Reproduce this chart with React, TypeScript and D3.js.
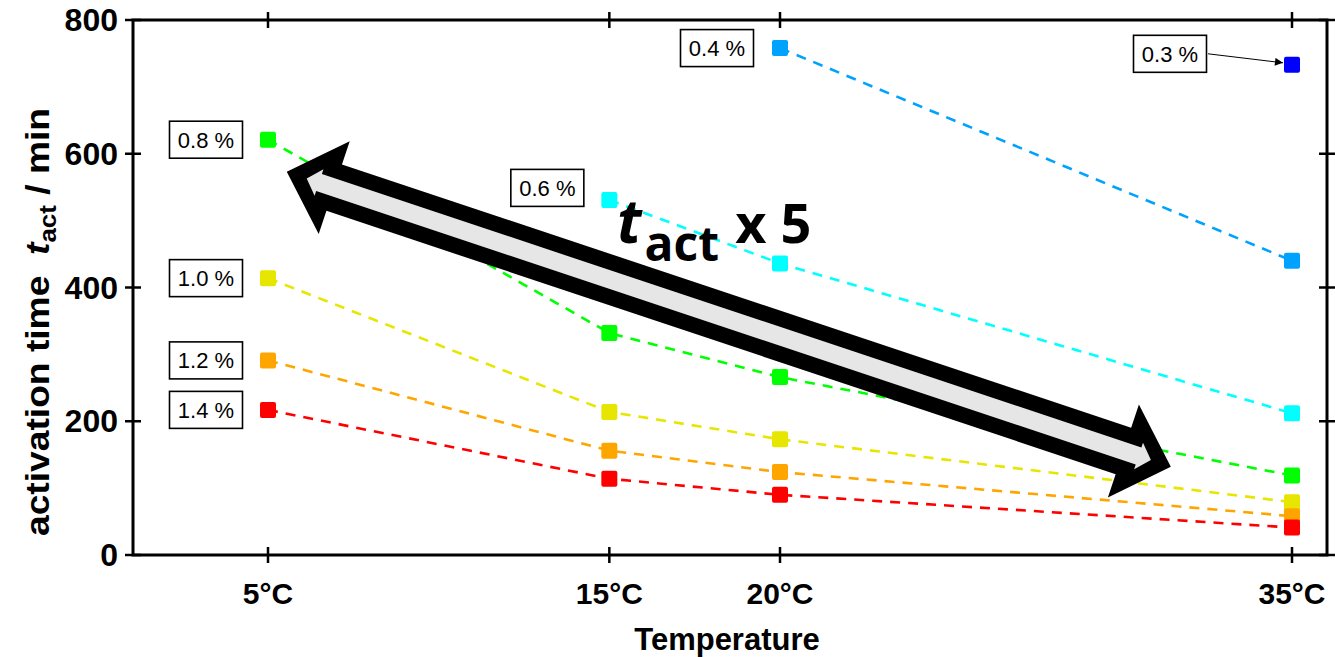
import React from "react";
import * as d3 from "d3";

// Temperatures (°C) at which the activation time was measured
const temperatures = [5, 15, 20, 35];
const xTickLabels = ["5°C", "15°C", "20°C", "35°C"];
const yTicks = [0, 200, 400, 600, 800];

// Activation time t_act (min) per concentration; null = not measured
const conc03 = [null, null, null, 733];
const conc04 = [null, null, 758, 440];
const conc06 = [null, 531, 436, 212];
const conc08 = [621, 332, 266, 119];
const conc10 = [414, 214, 173, 79];
const conc12 = [291, 156, 124, 58];
const conc14 = [217, 114, 90, 41];

const seriesLabels = ["0.3 %", "0.4 %", "0.6 %", "0.8 %", "1.0 %", "1.2 %", "1.4 %"];
const seriesValues = [conc03, conc04, conc06, conc08, conc10, conc12, conc14];
const seriesColors = ["#0000ff", "#00a2ff", "#00ffff", "#00ff00", "#e6e600", "#ffa500", "#ff0000"];

// Which point each concentration tag is attached to, and its offset (px)
const tagAnchorIndex = [3, 2, 1, 0, 0, 0, 0];
const tagOffsets: [number, number][] = [
  [-122, -11],
  [-63, 0],
  [-62, -12],
  [-62, 0],
  [-62, 0],
  [-62, 0],
  [-62, 0],
];

// Double-headed "x 5" arrow endpoints in data units [°C, min]
const spanArrowFrom: [number, number] = [5.55, 573];
const spanArrowTo: [number, number] = [31.45, 132];

const W = 1335;
const H = 657;
const plotLeft = 133;
const plotRight = 1327;
const plotTop = 20;
const plotBottom = 555;

const FONT = "'Liberation Sans', Arial, Helvetica, sans-serif";

export default function App() {
  const x = d3.scaleLinear().domain([5, 35]).range([268, 1292]);
  const y = d3.scaleLinear().domain([0, 800]).range([plotBottom, plotTop]);

  const line = d3
    .line<[number, number | null]>()
    .defined((d) => d[1] !== null)
    .x((d) => x(d[0]))
    .y((d) => y(d[1] as number));

  const tickLen = 8;
  const markerSize = 16;

  // Double arrow geometry in a local frame along the arrow axis
  const ax0 = x(spanArrowFrom[0]);
  const ay0 = y(spanArrowFrom[1]);
  const ax1 = x(spanArrowTo[0]);
  const ay1 = y(spanArrowTo[1]);
  const L = Math.hypot(ax1 - ax0, ay1 - ay0);
  const angle = (Math.atan2(ay1 - ay0, ax1 - ax0) * 180) / Math.PI;
  const doubleArrow = (tip: number, headLen: number, headHalf: number, shaftHalf: number) => {
    const a = tip;
    const b = tip + headLen;
    const c = L - tip - headLen;
    const e = L - tip;
    const pts: [number, number][] = [
      [a, 0], [b, -headHalf], [b, -shaftHalf], [c, -shaftHalf], [c, -headHalf],
      [e, 0], [c, headHalf], [c, shaftHalf], [b, shaftHalf], [b, headHalf],
    ];
    return pts.map((p) => p.join(",")).join(" ");
  };

  // Tag for the 0.3 % point has a pointer arrow
  const p03x = x(temperatures[3]);
  const p03y = y(conc03[3] as number);

  return (
    <svg
      width={W}
      height={H}
      viewBox={`0 0 ${W} ${H}`}
      style={{ position: "absolute", left: 0, top: 0, background: "#fff" }}
    >
      <defs>
        <marker id="ptr" viewBox="0 0 10 10" refX="10" refY="5" markerWidth="12" markerHeight="8" markerUnits="userSpaceOnUse" orient="auto">
          <path d="M0,0 L10,5 L0,10 z" fill="#000" />
        </marker>
      </defs>
      <rect x={0} y={0} width={W} height={H} fill="#fff" />

      {/* dashed connecting lines */}
      {seriesValues.map((vals, i) => (
        <path
          key={`l${i}`}
          d={line(temperatures.map((t, j) => [t, vals[j]] as [number, number | null])) || ""}
          fill="none"
          stroke={seriesColors[i]}
          strokeWidth={2.6}
          strokeDasharray="10,8"
        />
      ))}

      {/* square markers */}
      {seriesValues.map((vals, i) =>
        vals.map((v, j) =>
          v === null ? null : (
            <rect
              key={`m${i}-${j}`}
              x={x(temperatures[j]) - markerSize / 2}
              y={y(v) - markerSize / 2}
              width={markerSize}
              height={markerSize}
              rx={2}
              fill={seriesColors[i]}
            />
          )
        )
      )}

      {/* concentration tags */}
      {seriesLabels.map((lab, i) => {
        const j = tagAnchorIndex[i];
        const cx = x(temperatures[j]) + tagOffsets[i][0];
        const cy = y(seriesValues[i][j] as number) + tagOffsets[i][1];
        return (
          <g key={`t${i}`}>
            <rect x={cx - 36.5} y={cy - 18.5} width={73} height={37} fill="#fff" stroke="#000" strokeWidth={1.6} />
            <text x={cx} y={cy + 8} textAnchor="middle" fontFamily={FONT} fontSize={22} fill="#000">
              {lab}
            </text>
          </g>
        );
      })}
      <line
        x1={p03x - 122 + 38}
        y1={p03y - 11}
        x2={p03x - 9}
        y2={p03y - 2}
        stroke="#000"
        strokeWidth={1}
        markerEnd="url(#ptr)"
      />

      {/* big double arrow */}
      <g transform={`translate(${ax0},${ay0}) rotate(${angle})`}>
        <polygon points={doubleArrow(0, 50, 49, 24.5)} fill="#000" />
        <polygon points={doubleArrow(21, 13, 14, 9)} fill="#e6e6e6" />
      </g>

      {/* "t_act x 5" annotation */}
      <text x={617} y={243} fontFamily="'Open Sans', Lato, sans-serif" fontWeight={700} fontSize={54} fill="#000">
        <tspan fontStyle="italic" fontSize={60}>t</tspan>
        <tspan fontSize={48} dx={3} dy={18}>act</tspan>
        <tspan dy={-18} dx={2}>{"\u00a0"}x 5</tspan>
      </text>

      {/* frame */}
      <rect x={plotLeft} y={plotTop} width={plotRight - plotLeft} height={plotBottom - plotTop} fill="none" stroke="#000" strokeWidth={3} />

      {/* x ticks on bottom and top */}
      {temperatures.map((t, i) => (
        <g key={`xt${i}`}>
          <line x1={x(t)} x2={x(t)} y1={plotBottom - tickLen} y2={plotBottom + tickLen} stroke="#000" strokeWidth={2.5} />
          <line x1={x(t)} x2={x(t)} y1={plotTop - tickLen} y2={plotTop + tickLen} stroke="#000" strokeWidth={2.5} />
          <text x={x(t)} y={604} textAnchor="middle" fontFamily={FONT} fontWeight={700} fontSize={30} fill="#000">
            {xTickLabels[i]}
          </text>
        </g>
      ))}

      {/* y ticks on left and right */}
      {yTicks.map((v) => (
        <g key={`yt${v}`}>
          <line x1={plotLeft - tickLen} x2={plotLeft + tickLen} y1={y(v)} y2={y(v)} stroke="#000" strokeWidth={2.5} />
          <line x1={plotRight - tickLen} x2={plotRight + tickLen} y1={y(v)} y2={y(v)} stroke="#000" strokeWidth={2.5} />
          <text x={118} y={y(v) + 11} textAnchor="end" fontFamily={FONT} fontWeight={700} fontSize={32} fill="#000">
            {v}
          </text>
        </g>
      ))}

      {/* axis titles */}
      <text x={727} y={650} textAnchor="middle" fontFamily={FONT} fontWeight={700} fontSize={31} fill="#000">
        Temperature
      </text>
      <text
        transform={`translate(49,322) rotate(-90)`}
        textAnchor="middle"
        fontFamily={FONT}
        fontWeight={700}
        fontSize={33}
        textLength={428}
        lengthAdjust="spacingAndGlyphs"
        fill="#000"
      >
        activation time{"\u00a0\u00a0"}
        <tspan fontStyle="italic">t</tspan>
        <tspan fontSize={23} dy={7}>act</tspan>
        <tspan dy={-7}>{"\u00a0"}/ min</tspan>
      </text>
    </svg>
  );
}
